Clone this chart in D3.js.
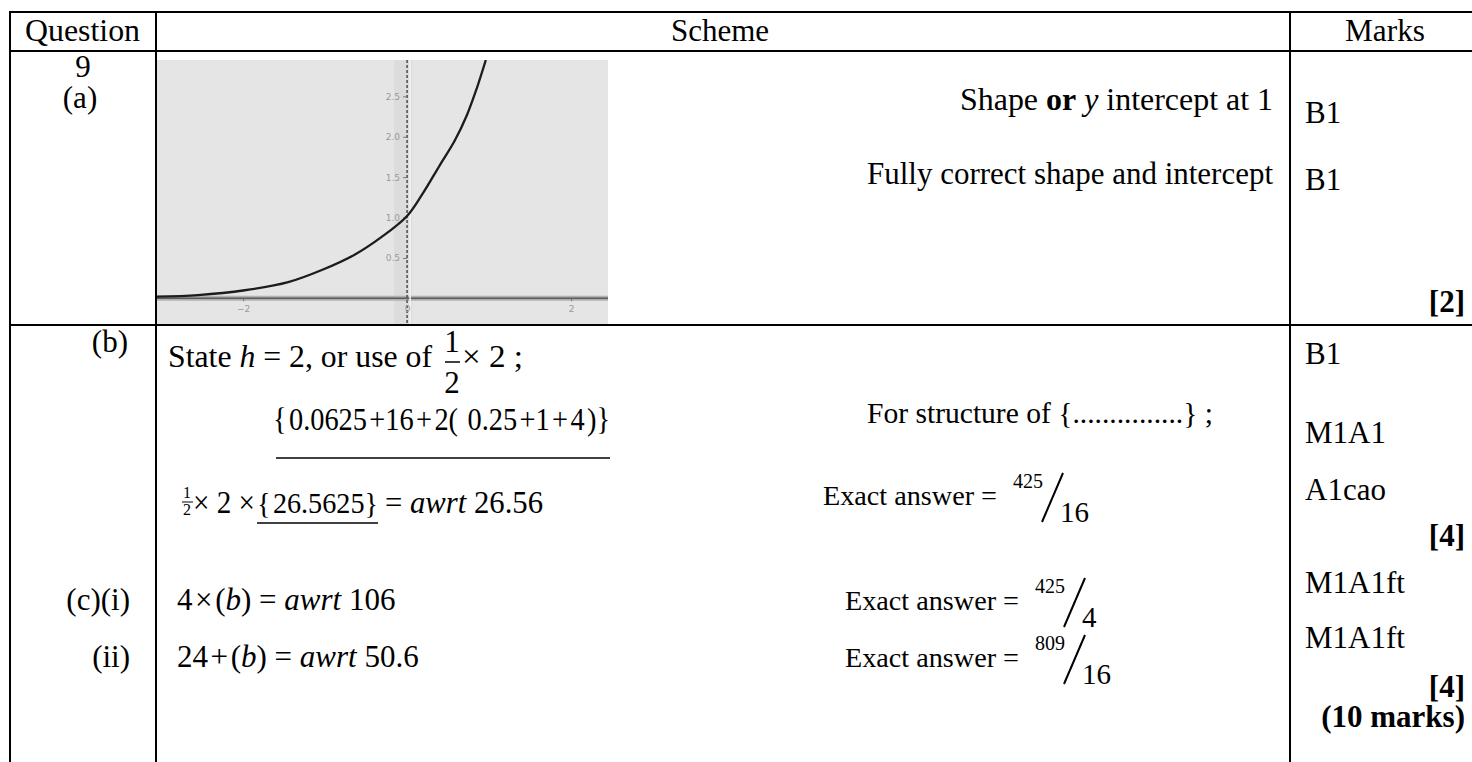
<!DOCTYPE html>
<meta charset="utf-8">
<script src="https://d3js.org/d3.v7.min.js"></script>

<style type="text/css">
  body { margin: 0; background: #fff; }
  svg { display: block; font-family: "Liberation Serif", "Times New Roman", serif; }
  text { white-space: pre; fill: #000; }
  .tick text { font-family: "DejaVu Sans", sans-serif; fill: #9a9a9a; }
  .tick line { stroke: #777; }
</style>

<body></body>

<script>
  // curve in the small graph (x, y in graph units)
  var curveX = [-3.05, -2.55, -1.98, -1.45, -1.04, -0.64, -0.31, 0, 0.18, 0.40, 0.58, 0.73, 0.85, 0.96];
  var curveY = [0.02, 0.04, 0.10, 0.20, 0.35, 0.54, 0.76, 1.02, 1.28, 1.65, 1.95, 2.27, 2.60, 2.95];
  var xTickValues = [-2, 0, 2];
  var yTickValues = [0.5, 1, 1.5, 2, 2.5];

  // table text
  var headers = ["Question", "Scheme", "Marks"];
  var questionLabels = ["9", "(a)", "(b)", "(c)(i)", "(ii)"];
  var marksA = ["B1", "B1"];
  var marksB = ["B1", "M1A1", "A1cao", "M1A1ft", "M1A1ft"];
  var totals = ["[2]", "[4]", "[4]", "(10 marks)"];
  var exactNum = ["425", "425", "809"];
  var exactDen = ["16", "4", "16"];

  var width = 1472;
  var height = 762;
  var svg = d3.select('body').append('svg')
    .attr('width', width)
    .attr('height', height);

  // ---- little graph for part (a)
  var graph = {left: 157, right: 608, top: 60, bottom: 324};
  var xScale = d3.scaleLinear().domain([-3.05, 2.45]).range([graph.left, graph.right]);
  var yScale = d3.scaleLinear().domain([-0.33, 2.95]).range([graph.bottom + 1, graph.top]);

  var g = svg.append('g');
  g.append('clipPath').attr('id', 'clip')
    .append('rect')
    .attr('x', graph.left).attr('y', graph.top)
    .attr('width', graph.right - graph.left).attr('height', graph.bottom - graph.top);

  g.append('rect')
    .attr('x', graph.left).attr('y', graph.top)
    .attr('width', graph.right - graph.left).attr('height', graph.bottom - graph.top)
    .attr('fill', '#e5e5e5');

  // darker strip round the y axis
  g.append('rect')
    .attr('x', xScale(0) - 13).attr('y', graph.top)
    .attr('width', 18).attr('height', graph.bottom - graph.top)
    .attr('fill', '#dcdcdc');

  // x axis line
  g.append('line')
    .attr('x1', graph.left).attr('x2', graph.right)
    .attr('y1', yScale(0)).attr('y2', yScale(0))
    .attr('stroke', '#b0b0b0').attr('stroke-width', 5);
  g.append('line')
    .attr('x1', graph.left).attr('x2', graph.right)
    .attr('y1', yScale(0)).attr('y2', yScale(0))
    .attr('stroke', '#5a5a5a').attr('stroke-width', 1.5);

  // y axis line (dotted look) with a white line beside it
  g.append('line')
    .attr('x1', xScale(0) + 3).attr('x2', xScale(0) + 3)
    .attr('y1', graph.top).attr('y2', graph.bottom)
    .attr('stroke', '#f6f6f6').attr('stroke-width', 1.5);
  g.append('line')
    .attr('x1', xScale(0)).attr('x2', xScale(0))
    .attr('y1', graph.top).attr('y2', graph.bottom)
    .attr('stroke', '#555').attr('stroke-width', 1.6)
    .attr('stroke-dasharray', '3,2');

  var xAxis = g.append('g')
    .attr('transform', 'translate(0,' + yScale(0) + ')')
    .call(d3.axisBottom(xScale).tickValues(xTickValues).tickSize(3).tickFormat(d3.format('d')));
  xAxis.select('.domain').remove();
  xAxis.selectAll('.tick text').attr('font-size', 9).attr('dy', '0.9em');

  var yAxis = g.append('g')
    .attr('transform', 'translate(' + xScale(0) + ',0)')
    .call(d3.axisLeft(yScale).tickValues(yTickValues).tickSize(4));
  yAxis.select('.domain').remove();
  yAxis.selectAll('.tick text').attr('font-size', 9);

  var points = curveX.map(function(d, i) { return [d, curveY[i]]; });
  var line = d3.line()
    .x(function(d) { return xScale(d[0]); })
    .y(function(d) { return yScale(d[1]); })
    .curve(d3.curveCatmullRom);

  g.append('path')
    .datum(points)
    .attr('clip-path', 'url(#clip)')
    .attr('d', line)
    .attr('fill', 'none')
    .attr('stroke', '#1c1c1c')
    .attr('stroke-width', 2.3);

  // ---- table rules
  var hLines = [12, 51, 325];
  var vLines = [10, 156, 1290];
  svg.selectAll('.hrule').data(hLines).enter().append('line')
    .attr('x1', 9).attr('x2', width)
    .attr('y1', function(d) { return d; }).attr('y2', function(d) { return d; })
    .attr('stroke', '#000').attr('stroke-width', 2);
  svg.selectAll('.vrule').data(vLines).enter().append('line')
    .attr('x1', function(d) { return d; }).attr('x2', function(d) { return d; })
    .attr('y1', 11).attr('y2', height)
    .attr('stroke', '#000').attr('stroke-width', 2);

  // text helper: parts are [string, style], style 'i' italic, 'b' bold
  function addText(x, y, parts, o) {
    o = o || {};
    if (typeof parts === 'string') parts = [[parts, o.style || '']];
    var t = svg.append('text')
      .attr('x', x).attr('y', y)
      .attr('font-size', o.size || 31)
      .attr('text-anchor', o.anchor || 'start');
    if (o.len) t.attr('textLength', o.len).attr('lengthAdjust', 'spacingAndGlyphs');
    parts.forEach(function(p) {
      var s = t.append('tspan').text(p[0]);
      if (p[1] === 'i') s.attr('font-style', 'italic');
      if (p[1] === 'b') s.attr('font-weight', 'bold');
    });
    return t;
  }
  function rule(x1, y1, x2, y2, w) {
    svg.append('line')
      .attr('x1', x1).attr('y1', y1).attr('x2', x2).attr('y2', y2)
      .attr('stroke', '#000').attr('stroke-width', w || 1.5);
  }
  var hs = '\u200a'; // hair space, MathType-like tight spacing

  // header
  addText(25, 41, headers[0], {len: 115});
  addText(720, 41, headers[1], {anchor: 'middle'});
  addText(1345, 41, headers[2], {len: 80});

  // question column
  addText(83, 77, questionLabels[0], {anchor: 'middle'});
  addText(80, 108, questionLabels[1], {anchor: 'middle'});
  addText(128, 352, questionLabels[2], {anchor: 'end'});
  addText(130, 610, questionLabels[3], {anchor: 'end'});
  addText(130, 667, questionLabels[4], {anchor: 'end'});

  // part (a) scheme
  addText(960, 110, [['Shape ', ''], ['or', 'b'], [' ', ''], ['y', 'i'], [' intercept at 1', '']], {len: 313});
  addText(867, 184, 'Fully correct shape and intercept', {len: 406});

  // part (b) scheme
  addText(168, 367, [['State ', ''], ['h', 'i'], [' = 2, or use of', '']], {len: 264});
  addText(452, 352, '1', {anchor: 'middle'});
  addText(452, 393, '2', {anchor: 'middle'});
  rule(445, 362, 460, 362, 1.5);
  addText(462, 367, '\u00d7 2 ;', {len: 61});

  addText(273, 430, '{' + hs + '0.0625' + hs + '+16' + hs + '+' + hs + '2(' + hs + ' 0.25' + hs + '+1' + hs + '+' + hs + '4' + hs + ')}', {len: 337});
  rule(276, 458, 610, 458, 1.6);

  addText(187, 498, '1', {anchor: 'middle', size: 16});
  addText(187, 515, '2', {anchor: 'middle', size: 16});
  rule(182, 502, 193, 502, 1);
  addText(193, 513, '\u00d7 2 \u00d7', {len: 62});
  addText(257, 513, '{' + hs + '26.5625}', {len: 121, size: 29});
  rule(257, 523, 378, 523, 1.6);
  addText(385, 513, [['= ', ''], ['awrt', 'i'], [' 26.56', '']], {len: 158});

  addText(867, 423, 'For structure of {...............} ;', {len: 346, size: 30});

  // exact answers with slanted fractions
  var exactRows = [
    {x: 823, y: 505},
    {x: 845, y: 610},
    {x: 845, y: 667}
  ];
  exactRows.forEach(function(r, i) {
    addText(r.x, r.y, 'Exact answer =', {len: 174, size: 28});
    var nx = r.x + 190;
    addText(nx, r.y - 17, exactNum[i], {len: 30, size: 21});
    rule(nx + 29, r.y + 17, nx + 50, r.y - 32, 2);
    addText(nx + 47, r.y + 17, exactDen[i], {size: 29});
  });

  // part (c)
  addText(177, 610, [['4' + hs + '\u00d7' + hs + '(', ''], ['b', 'i'], [') = ', ''], ['awrt', 'i'], [' 106', '']]);
  addText(177, 667, [['24' + hs + '+' + hs + '(', ''], ['b', 'i'], [') = ', ''], ['awrt', 'i'], [' 50.6', '']]);

  // marks column
  addText(1305, 123, marksA[0]);
  addText(1305, 190, marksA[1]);
  addText(1465, 312, totals[0], {anchor: 'end', style: 'b'});

  var marksBY = [364, 443, 500, 593, 648];
  marksB.forEach(function(m, i) { addText(1305, marksBY[i], m); });
  addText(1465, 546, totals[1], {anchor: 'end', style: 'b'});
  addText(1465, 697, totals[2], {anchor: 'end', style: 'b'});
  addText(1465, 727, totals[3], {anchor: 'end', style: 'b'});
</script>
